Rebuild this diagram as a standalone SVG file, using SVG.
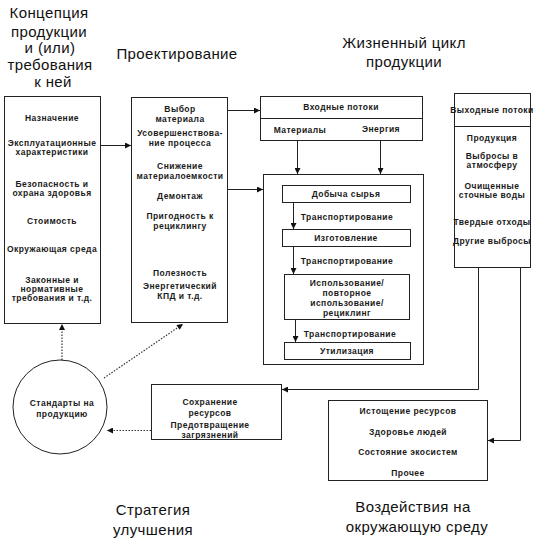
<svg xmlns="http://www.w3.org/2000/svg" width="535" height="545" viewBox="0 0 535 545">
<style>
.box{fill:none;stroke:#222;stroke-width:1}
.ln{fill:none;stroke:#222;stroke-width:1}
.dot{fill:none;stroke:#333;stroke-width:1.2;stroke-dasharray:1.5 1.5}
.t{font-family:"Liberation Sans",Arial,sans-serif;font-size:8.5px;font-weight:bold;fill:#1a1a1a;text-anchor:middle;letter-spacing:0.45px}
.h{font-family:"Liberation Sans",Arial,sans-serif;font-size:15px;fill:#111;text-anchor:middle;letter-spacing:0.4px}
</style>
<defs>
<marker id="ah" viewBox="0 0 10 10" refX="10" refY="5" markerWidth="7" markerHeight="6" markerUnits="userSpaceOnUse" orient="auto">
<path d="M0,0 L10,5 L0,10 z" fill="#111"/>
</marker>
</defs>
<rect width="535" height="545" fill="#fff"/>

<g id="titles">
<text class="h" x="49" y="18">Концепция</text>
<text class="h" x="49" y="37">продукции</text>
<text class="h" x="50" y="53">и (или)</text>
<text class="h" x="50" y="70">требования</text>
<text class="h" x="53" y="87">к ней</text>
<text class="h" x="177" y="59">Проектирование</text>
<text class="h" x="404" y="48">Жизненный цикл</text>
<text class="h" x="404" y="67">продукции</text>
<text class="h" x="153" y="515">Стратегия</text>
<text class="h" x="153" y="535">улучшения</text>
<text class="h" x="413" y="512">Воздействия на</text>
<text class="h" x="417" y="532">окружающую среду</text>
</g>

<g id="concept">
<rect class="box" x="4.5" y="96.5" width="96" height="227"/>
<text class="t" x="52" y="121">Назначение</text>
<text class="t" x="52" y="146">Эксплуатационные</text>
<text class="t" x="52" y="155">характеристики</text>
<text class="t" x="52" y="187">Безопасность и</text>
<text class="t" x="52" y="196">охрана здоровья</text>
<text class="t" x="52" y="224">Стоимость</text>
<text class="t" x="52" y="252">Окружающая среда</text>
<text class="t" x="52" y="283">Законные и</text>
<text class="t" x="52" y="292">нормативные</text>
<text class="t" x="52" y="301">требования и т.д.</text>
</g>

<g id="design">
<rect class="box" x="131.5" y="97.5" width="96" height="225"/>
<text class="t" x="180" y="112">Выбор</text>
<text class="t" x="180" y="122">материала</text>
<text class="t" x="180" y="136">Усовершенствова-</text>
<text class="t" x="180" y="146">ние процесса</text>
<text class="t" x="180" y="169">Снижение</text>
<text class="t" x="180" y="179">материалоемкости</text>
<text class="t" x="180" y="199">Демонтаж</text>
<text class="t" x="180" y="219">Пригодность к</text>
<text class="t" x="180" y="229">рециклингу</text>
<text class="t" x="180" y="276">Полезность</text>
<text class="t" x="180" y="289">Энергетический</text>
<text class="t" x="180" y="299">КПД и т.д.</text>
</g>

<g id="inputs">
<rect class="box" x="260.5" y="96.5" width="162" height="44"/>
<line class="ln" x1="260.5" y1="118.5" x2="422.5" y2="118.5"/>
<text class="t" x="341" y="110">Входные потоки</text>
<text class="t" x="300" y="133">Материалы</text>
<text class="t" x="381" y="132">Энергия</text>
</g>

<g id="process">
<rect class="box" x="263.5" y="174.5" width="160" height="190"/>
</g>
<g id="extract">
<rect class="box" x="282.5" y="185.5" width="128" height="17"/>
<text class="t" x="346" y="197">Добыча сырья</text>
</g>
<g id="manufacture">
<rect class="box" x="282.5" y="229.5" width="128" height="17"/>
<text class="t" x="346" y="241">Изготовление</text>
</g>
<g id="use">
<rect class="box" x="284.5" y="274.5" width="125" height="45"/>
<text class="t" x="347" y="286">Использование/</text>
<text class="t" x="347" y="296">повторное</text>
<text class="t" x="347" y="306">использование/</text>
<text class="t" x="347" y="316">рециклинг</text>
</g>
<g id="disposal">
<rect class="box" x="284.5" y="342.5" width="126" height="17"/>
<text class="t" x="347" y="354">Утилизация</text>
</g>

<g id="outputs">
<rect class="box" x="454.5" y="93.5" width="76" height="174"/>
<line class="ln" x1="454.5" y1="126.5" x2="530.5" y2="126.5"/>
<text class="t" x="492" y="113">Выходные потоки</text>
<text class="t" x="492" y="141">Продукция</text>
<text class="t" x="492" y="159">Выбросы в</text>
<text class="t" x="492" y="168">атмосферу</text>
<text class="t" x="492" y="189">Очищенные</text>
<text class="t" x="492" y="198">сточные воды</text>
<text class="t" x="492" y="225">Твердые отходы</text>
<text class="t" x="492" y="244">Другие выбросы</text>
</g>

<g id="standards">
<circle class="box" cx="60" cy="407" r="47"/>
<text class="t" x="62" y="406">Стандарты на</text>
<text class="t" x="62" y="417">продукцию</text>
</g>

<g id="strategy">
<rect class="box" x="151.5" y="384.5" width="130" height="55"/>
<text class="t" x="210" y="405">Сохранение</text>
<text class="t" x="210" y="416">ресурсов</text>
<text class="t" x="210" y="428">Предотвращение</text>
<text class="t" x="210" y="438">загрязнений</text>
</g>

<g id="impacts">
<rect class="box" x="328.5" y="400.5" width="159" height="80"/>
<text class="t" x="408" y="414">Истощение ресурсов</text>
<text class="t" x="408" y="435">Здоровье людей</text>
<text class="t" x="408" y="455">Состояние экосистем</text>
<text class="t" x="408" y="476">Прочее</text>
</g>

<g id="connectors">
<line class="ln" x1="100.5" y1="145.5" x2="131" y2="145.5" marker-end="url(#ah)"/>
<line class="ln" x1="227.5" y1="110.5" x2="260" y2="110.5" marker-end="url(#ah)"/>
<line class="ln" x1="227.5" y1="189.5" x2="263" y2="189.5" marker-end="url(#ah)"/>
<line class="ln" x1="297.5" y1="140.5" x2="297.5" y2="174" marker-end="url(#ah)"/>
<line class="ln" x1="380.5" y1="140.5" x2="380.5" y2="174" marker-end="url(#ah)"/>
<line class="ln" x1="293.5" y1="202.5" x2="293.5" y2="229" marker-end="url(#ah)"/>
<line class="ln" x1="293.5" y1="246.5" x2="293.5" y2="274" marker-end="url(#ah)"/>
<line class="ln" x1="295.5" y1="319.5" x2="295.5" y2="342" marker-end="url(#ah)"/>
<text class="t" x="347" y="220">Транспортирование</text>
<text class="t" x="347" y="264">Транспортирование</text>
<text class="t" x="350" y="337">Транспортирование</text>
<polyline class="ln" points="478.5,267.5 478.5,389.5 282,389.5" marker-end="url(#ah)"/>
<polyline class="ln" points="520.5,267.5 520.5,440.5 488,440.5" marker-end="url(#ah)"/>
<line class="dot" x1="62" y1="360" x2="62" y2="324" marker-end="url(#ah)"/>
<line class="dot" x1="104" y1="378" x2="183" y2="324" marker-end="url(#ah)"/>
<line class="dot" x1="151" y1="430.5" x2="107" y2="430.5" marker-end="url(#ah)"/>
</g>
</svg>
